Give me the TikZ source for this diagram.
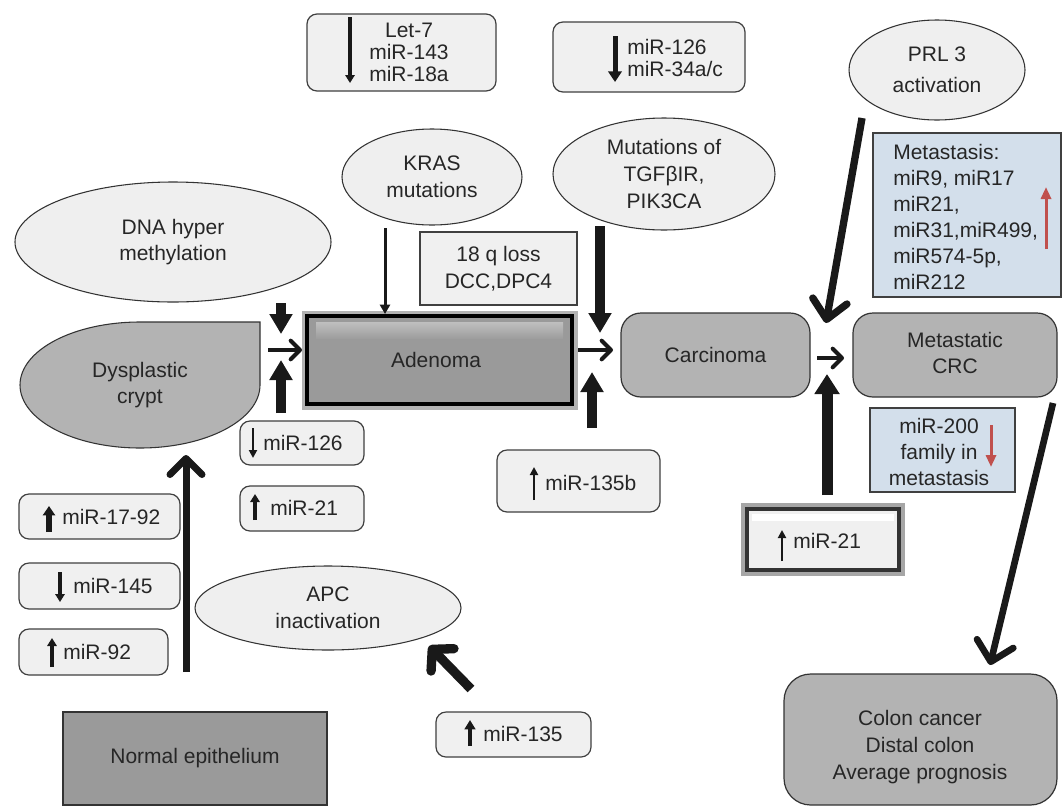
\documentclass[tikz,border=0pt]{standalone}
\usepackage{fontspec}
\setmainfont{Liberation Sans}
\usetikzlibrary{arrows.meta,shapes.geometric,fit}
\definecolor{boxfill}{HTML}{F0F0F0}
\definecolor{ellfill}{HTML}{EFEFEF}
\definecolor{midgray}{HTML}{B3B3B3}
\definecolor{darkgray}{HTML}{9A9A9A}
\definecolor{paleblue}{HTML}{D3DFEB}
\definecolor{redarrow}{HTML}{C0504D}
\begin{document}
\begin{tikzpicture}[x=0.75pt,y=-0.75pt]
\tikzset{
 txt/.style={font=\fontsize{15.75pt}{20pt}\selectfont, text=black!85, inner sep=0pt},
 rbox/.style={draw=black!75, line width=0.9pt, fill=boxfill, rounded corners=7.5pt, inner sep=0pt},
 sbox/.style={draw=black!75, line width=0.9pt, fill=boxfill, inner sep=0pt},
 bbox/.style={draw=black!75, line width=0.9pt, fill=paleblue, inner sep=0pt},
 ell/.style={ellipse, draw=black!80, line width=0.8pt, fill=ellfill, inner sep=0pt, align=center, txt},
 stage/.style={draw=black!80, line width=0.9pt, fill=midgray, rounded corners=15pt, inner sep=0pt},
 fat/.style={line width=7.5pt, -{Triangle[width=16.5pt,length=15pt]}, black!90},
 fatter/.style={line width=8.25pt, -{Triangle[width=18pt,length=15pt]}, black!90},
 thinarr/.style={line width=2.25pt, -{Triangle[width=7.5pt,length=7pt]}, black!90},
 mini/.style={line width=3pt, -{Triangle[width=7pt,length=6pt]}, black!90},
 minithin/.style={line width=2pt, -{Triangle[width=6pt,length=6pt]}, black!90},
 chev/.style={line width=3pt, -{Straight Barb[round,length=7pt,width=14pt]}, black!90},
 bigchev/.style={line width=5.25pt, -{Straight Barb[round,length=12pt,width=24pt]}, black!90},
 redarr/.style={line width=2.25pt, -{Triangle[width=7.5pt,length=9pt]}, redarrow},
}
\useasboundingbox (0,0) rectangle (1062,807);
\fill[white] (0,0) rectangle (1062,807);

% top boxes
\node[rbox, fit={(307,14)(496,91)}] (let7) {};
\node[txt, align=center, font=\fontsize{15.75pt}{16.5pt}\selectfont] (let7t) at (409,52) {Let-7\\miR-143\\miR-18a};
\draw[mini] (350,17) -- (350,83);

\node[rbox, fit={(553,22)(745,92)}] (m126) {};
\node[txt, align=left, anchor=west, font=\fontsize{15.75pt}{17pt}\selectfont] (m126t) at (627,58) {miR-126\\miR-34a/c};
\draw[line width=3.75pt, -{Triangle[width=10pt,length=8pt]}, black!90] (615,36) -- (615,82);

% ellipses
\node[ell, minimum width=132pt, minimum height=75pt] (prl) at (937,70) {PRL 3\\[3pt]activation};
\node[ell, minimum width=135pt, minimum height=72pt] (kras) at (432,177) {KRAS\\mutations};
\node[ell, minimum width=166.5pt, minimum height=84pt] (mut) at (664,174) {Mutations of\\TGFβIR,\\PIK3CA};
\node[ell, minimum width=237pt, minimum height=90pt] (dna) at (173,242) {DNA hyper\\methylation};
\node[ell, minimum width=199.5pt, minimum height=63pt] (apc) at (328,608) {APC\\inactivation};

% 18q loss
\node[sbox, fit={(420,232)(577,305)}] (q18) {};
\node[txt, align=center] (q18t) at (q18) {18 q loss\\DCC,DPC4};

% metastasis blue box
\node[bbox, fit={(873,133)(1061,297)}] (meta) {};
\node[txt, align=left, anchor=west, font=\fontsize{15.75pt}{19.5pt}\selectfont] (metat) at (893,217) {Metastasis:\\miR9, miR17\\miR21,\\miR31,miR499,\\miR574-5p,\\miR212};
\draw[redarr] (1046,249) -- (1046,187);

% dysplastic crypt
\path[draw=black!80, line width=0.8pt, fill=midgray] (260,385) -- (260,322) -- (140,322)
  .. controls (73.7,322) and (20,350.2) .. (20,385)
  .. controls (20,419.8) and (73.7,448) .. (140,448)
  .. controls (206.3,448) and (260,419.8) .. (260,385) -- cycle;
\node[txt, align=center] (crypt) at (140,385) {Dysplastic\\crypt};

% adenoma
\fill[black!30] (302,311) rectangle (578,410);
\node[draw=black, line width=3pt, fill=darkgray, fit={(307,316)(572,404)}, inner sep=0pt] (adenoma) {};
\shade[top color=black!25, bottom color=black!38] (316,322) rectangle (563,338);
\node[txt] (adenomat) at (436,360) {Adenoma};

% carcinoma, metastatic
\node[stage, fit={(621,313)(810,397)}] (carc) {};
\node[txt] (carct) at (carc) {Carcinoma};
\node[stage, fit={(853,313)(1057,397)}] (mcrc) {};
\node[txt, align=center] (mcrct) at (955,353) {Metastatic\\CRC};

% miR-200 box
\node[bbox, fit={(870,408)(1015,492)}] (m200) {};
\node[txt, align=center, font=\fontsize{15.75pt}{19.5pt}\selectfont] (m200t) at (939,452) {miR-200\\family in\\metastasis};
\draw[redarr] (991,425) -- (991,467);

% miR-21 beveled
\node[draw=black!35, line width=3pt, fit={(743,505)(903,574)}, inner sep=0pt] (m21bo) {};
\node[draw=black!80, line width=2.5pt, fill=boxfill, fit={(747,509)(899,570)}, inner sep=0pt] (m21b) {};
\fill[white] (752,514) rectangle (894,521);
\node[txt, anchor=west] (m21bt) at (793,541) {miR-21};
\draw[minithin] (782,561) -- (782,530);

% miR-135b
\node[rbox, fit={(497,450)(660,512)}] (m135b) {};
\node[txt, anchor=west] (m135bt) at (545,483) {miR-135b};
\draw[minithin] (534,500) -- (534,467);

% left middle boxes
\node[rbox, fit={(240,421)(364,465)}] (l126) {};
\node[txt, anchor=west] (l126t) at (263,443) {miR-126};
\draw[minithin] (253,428) -- (253,458);
\node[rbox, fit={(240,486)(364,531)}] (l21) {};
\node[txt, anchor=west] (l21t) at (270,508) {miR-21};
\draw[mini] (255,520) -- (255,494);

% left column boxes
\node[rbox, fit={(19,494)(180,539)}] (b1792) {};
\node[txt, anchor=west] (b1792t) at (62,517) {miR-17-92};
\draw[line width=4pt, -{Triangle[width=9pt,length=7pt]}, black!90] (49,532) -- (49,506);
\node[rbox, fit={(19,563)(180,609)}] (b145) {};
\node[txt, anchor=west] (b145t) at (73,586) {miR-145};
\draw[mini] (60,572) -- (60,602);
\node[rbox, fit={(19,629)(168,675)}] (b92) {};
\node[txt, anchor=west] (b92t) at (63,652) {miR-92};
\draw[mini] (52,667) -- (52,638);

% miR-135
\node[rbox, fit={(436,712)(591,757)}] (b135) {};
\node[txt, anchor=west] (b135t) at (483,734) {miR-135};
\draw[line width=3.5pt, -{Triangle[width=8pt,length=7pt]}, black!90] (470,746) -- (470,720);

% normal epithelium
\node[draw=black!80, line width=0.9pt, fill=darkgray, fit={(63,712)(327,805)}, inner sep=0pt] (normal) {};
\node[txt] (normalt) at (normal) {Normal epithelium};

% colon cancer
\node[stage, rounded corners=20pt, fit={(784,674)(1057,805)}] (colon) {};
\node[txt, align=center] (colont) at (920,747) {Colon cancer\\Distal colon\\Average prognosis};

% connectors
\coordinate (c1a) at (186,672); \coordinate (c1b) at (186,455);
\draw[bigchev] (c1a) -- (c1b);
\coordinate (c2a) at (471,689); \coordinate (c2b) at (429,646);
\draw[line width=7pt, -{Straight Barb[round,length=11pt,width=24pt]}, black!90] (c2a) -- (c2b);
\coordinate (c3a) at (862,118); \coordinate (c3b) at (826,323);
\draw[line width=5.5pt, -{Straight Barb[round,length=14pt,width=26pt]}, black!90] (c3a) -- (c3b);
\coordinate (c4a) at (1053,403); \coordinate (c4b) at (990,665);
\draw[line width=5pt, -{Straight Barb[round,length=14pt,width=28pt]}, black!90] (c4a) -- (c4b);

\coordinate (h1a) at (268,350); \coordinate (h1b) at (302,350);
\draw[chev] (h1a) -- (h1b);
\coordinate (h2a) at (578,350); \coordinate (h2b) at (613,350);
\draw[chev] (h2a) -- (h2b);
\coordinate (h3a) at (817,358); \coordinate (h3b) at (844,358);
\draw[chev] (h3a) -- (h3b);

\coordinate (v1a) at (281,303); \coordinate (v1b) at (281,334);
\draw[fat] (v1a) -- (v1b);
\coordinate (v2a) at (281,413); \coordinate (v2b) at (281,360);
\draw[fat] (v2a) -- (v2b);
\coordinate (v3a) at (385,228); \coordinate (v3b) at (385,314);
\draw[thinarr] (v3a) -- (v3b);
\coordinate (v4a) at (600,226); \coordinate (v4b) at (600,333);
\draw[fat] (v4a) -- (v4b);
\coordinate (v5a) at (592,428); \coordinate (v5b) at (592,372);
\draw[fat] (v5a) -- (v5b);
\coordinate (v6a) at (827,495); \coordinate (v6b) at (827,374);
\draw[fatter] (v6a) -- (v6b);
\end{tikzpicture}
\end{document}
